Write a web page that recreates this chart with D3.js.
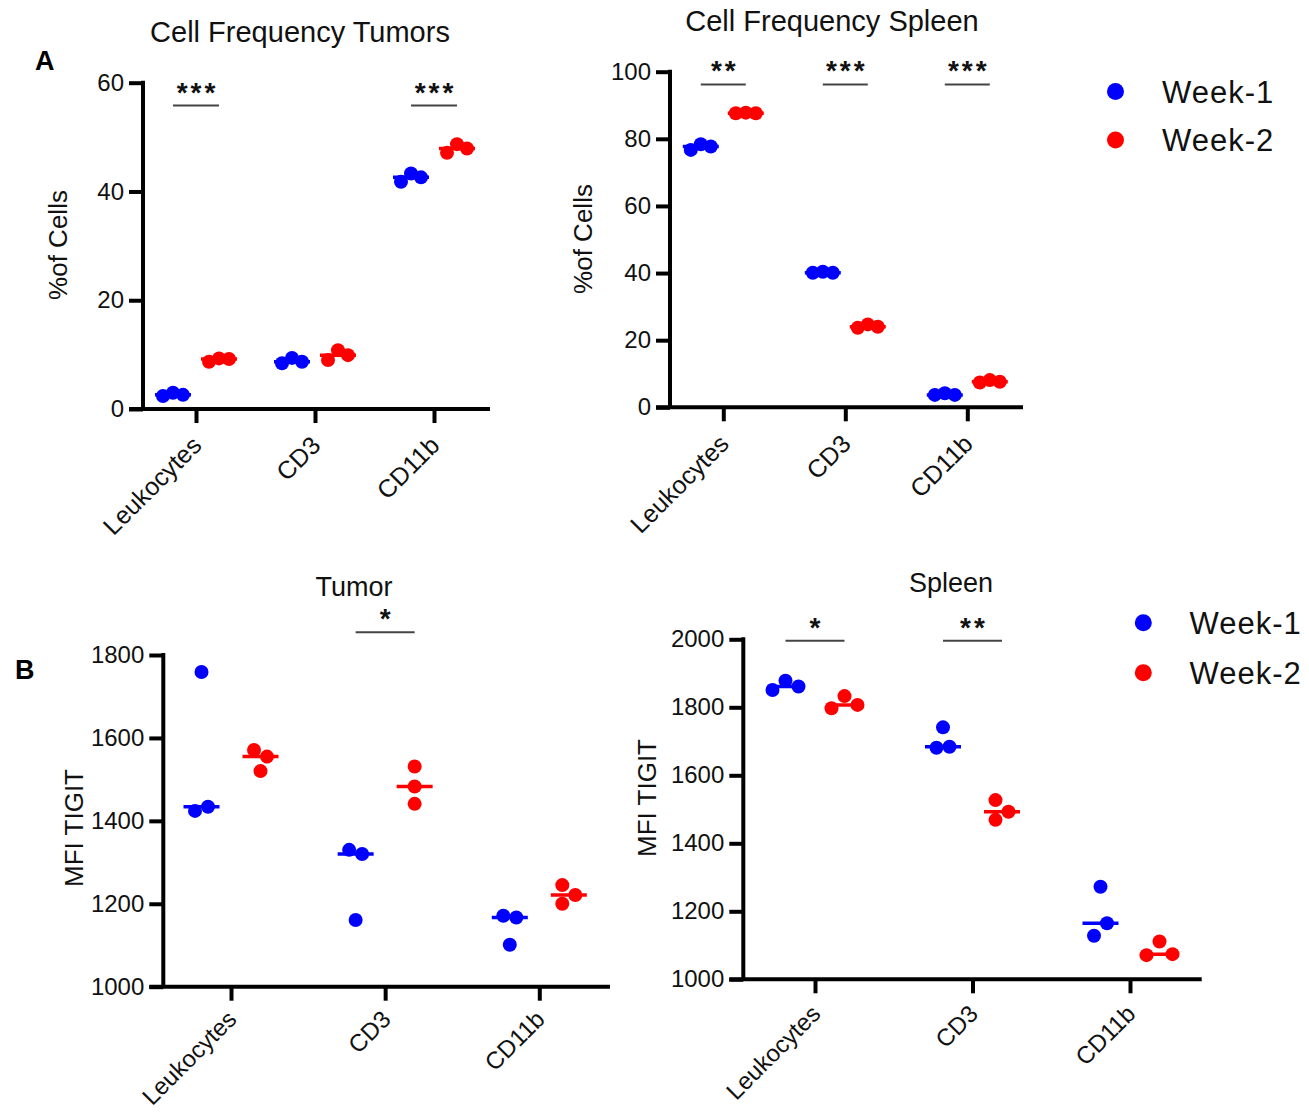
<!DOCTYPE html>
<html>
<head>
<meta charset="utf-8">
<script src="https://cdn.jsdelivr.net/npm/d3@7"></script>
<style>
  html, body { margin: 0; padding: 0; background: #fff; }
  svg { display: block; }
</style>
</head>
<body>
<svg id="chart" width="1309" height="1114"></svg>
<script>
// ---------------- DATA ----------------
const categories = ["Leukocytes", "CD3", "CD11b"];
const seriesNames = ["Week-1", "Week-2"];
const seriesColors = ["#0000ff", "#ff0000"];

// Panel A (left): Cell Frequency Tumors (% of cells)
const tumorFreqWeek1 = [[2.4, 3.0, 2.6], [8.4, 9.4, 8.7], [41.8, 43.3, 42.6]];
const tumorFreqWeek2 = [[8.7, 9.3, 9.2], [9.0, 10.8, 9.9], [47.1, 48.7, 47.9]];
const tumorFreqTicks = [0, 20, 40, 60];
const tumorFreqSig = ["***", "", "***"];
const tumorFreqSigLevel = [55.8, null, 55.8];

// Panel A (right): Cell Frequency Spleen (% of cells)
const spleenFreqWeek1 = [[76.7, 78.4, 77.7], [40.1, 40.4, 40.1], [3.7, 4.2, 3.7]];
const spleenFreqWeek2 = [[87.6, 87.8, 87.6], [23.7, 24.7, 24.0], [7.4, 8.1, 7.6]];
const spleenFreqTicks = [0, 20, 40, 60, 80, 100];
const spleenFreqSig = ["**", "***", "***"];
const spleenFreqSigLevel = [96.2, 96.2, 96.2];

// Panel B (left): Tumor MFI TIGIT
const tumorMfiWeek1 = [[1424, 1759, 1434], [1330, 1161, 1320], [1171, 1101, 1167]];
const tumorMfiWeek2 = [[1571, 1520, 1555], [1531, 1483, 1441], [1245, 1200, 1221]];
const tumorMfiTicks = [1000, 1200, 1400, 1600, 1800];
const tumorMfiSig = ["", "*", ""];
const tumorMfiSigLevel = [null, 1855, null];

// Panel B (right): Spleen MFI TIGIT
const spleenMfiWeek1 = [[1851, 1878, 1861], [1681, 1741, 1684], [1128, 1272, 1165]];
const spleenMfiWeek2 = [[1797, 1833, 1807], [1527, 1469, 1493], [1071, 1111, 1074]];
const spleenMfiTicks = [1000, 1200, 1400, 1600, 1800, 2000];
const spleenMfiSig = ["*", "**", ""];
const spleenMfiSigLevel = [1996, 1996, null];

// ---------------- LAYOUT ----------------
const FONT = "'Liberation Sans', Arial, Helvetica, sans-serif";
const svg = d3.select("#chart");

const panels = [
  { title: "Cell Frequency Tumors", titleSize: 29, titlePos: [300, 42], yTitle: "%of Cells", yTitlePos: [67, 245],
    w1: tumorFreqWeek1, w2: tumorFreqWeek2, ticks: tumorFreqTicks, sig: tumorFreqSig, sigLevel: tumorFreqSigLevel,
    axisX: 143, axisEnd: 490, yTop: 82.7, yBot: 409, catFirst: 196, catLast: 434, off: 23, spread: 10,
    catDy: 38, catSize: 25 },
  { title: "Cell Frequency Spleen", titleSize: 29, titlePos: [832, 31], yTitle: "%of Cells", yTitlePos: [592, 239],
    w1: spleenFreqWeek1, w2: spleenFreqWeek2, ticks: spleenFreqTicks, sig: spleenFreqSig, sigLevel: spleenFreqSigLevel,
    axisX: 670, axisEnd: 1023, yTop: 71.7, yBot: 407.3, catFirst: 723.3, catLast: 967.3, off: 22.5, spread: 10,
    catDy: 38, catSize: 25 },
  { title: "Tumor", titleSize: 27, titlePos: [354, 596], yTitle: "MFI TIGIT", yTitlePos: [83, 828],
    w1: tumorMfiWeek1, w2: tumorMfiWeek2, ticks: tumorMfiTicks, sig: tumorMfiSig, sigLevel: tumorMfiSigLevel,
    axisX: 163.3, axisEnd: 610, yTop: 655, yBot: 986.7, catFirst: 231, catLast: 539.3, off: 29.5, spread: 13,
    catDy: 34, catSize: 24 },
  { title: "Spleen", titleSize: 27, titlePos: [951, 592], yTitle: "MFI TIGIT", yTitlePos: [656, 798],
    w1: spleenMfiWeek1, w2: spleenMfiWeek2, ticks: spleenMfiTicks, sig: spleenMfiSig, sigLevel: spleenMfiSigLevel,
    axisX: 743.3, axisEnd: 1201.7, yTop: 639.3, yBot: 979.3, catFirst: 815, catLast: 1130, off: 29.5, spread: 13,
    catDy: 36, catSize: 24 }
];

const R = 7;              // dot radius
const OVERLAP = 14;       // px distance under which dots collide vertically
const MED_HALF = 18;      // half-width of median bar
const TICK = 14;

// Horizontal arrangement like GraphPad scatter-dot: colliding dots spread into columns
function arrange(pxs, spread) {
  const n = pxs.length;
  const parent = d3.range(n);
  const find = i => parent[i] === i ? i : (parent[i] = find(parent[i]));
  for (let i = 0; i < n; i++) for (let j = i + 1; j < n; j++)
    if (Math.abs(pxs[i] - pxs[j]) < OVERLAP) parent[find(i)] = find(j);
  const groups = d3.group(d3.range(n), i => find(i));
  const offs = new Array(n).fill(0);
  for (const members of groups.values()) {
    const cols = [];
    const colOf = {};
    members.forEach(i => {
      let c = 0;
      while (cols[c] && cols[c].some(j => Math.abs(pxs[i] - pxs[j]) < OVERLAP)) c++;
      (cols[c] = cols[c] || []).push(i);
      colOf[i] = c;
    });
    const nc = cols.length;
    members.forEach(i => { offs[i] = (colOf[i] - (nc - 1) / 2) * spread; });
  }
  return offs;
}

panels.forEach(p => {
  const g = svg.append("g");
  const y = d3.scaleLinear().domain(d3.extent(p.ticks)).range([p.yBot, p.yTop]);
  const x = d3.scalePoint().domain(categories).range([p.catFirst, p.catLast]);
  const xs = d3.scalePoint().domain(seriesNames).range([-p.off, p.off]);

  // Title
  g.append("text").attr("x", p.titlePos[0]).attr("y", p.titlePos[1])
    .attr("text-anchor", "middle").attr("font-family", FONT).attr("font-size", p.titleSize)
    .attr("fill", "#111").text(p.title);

  // Y title
  g.append("text")
    .attr("transform", `translate(${p.yTitlePos[0]},${p.yTitlePos[1]}) rotate(-90)`)
    .attr("text-anchor", "middle").attr("font-family", FONT).attr("font-size", 26)
    .attr("fill", "#111").text(p.yTitle);

  // Y axis
  const yAxis = g.append("g").attr("transform", `translate(${p.axisX},0)`)
    .call(d3.axisLeft(y).tickValues(p.ticks).tickSize(TICK).tickPadding(5).tickFormat(d3.format("d")));
  yAxis.select(".domain").remove();
  yAxis.selectAll(".tick line").attr("stroke", "#000").attr("stroke-width", 4);
  yAxis.selectAll(".tick text").attr("font-family", FONT).attr("font-size", 24).attr("fill", "#111");

  // X axis ticks
  const xAxis = g.append("g").attr("transform", `translate(0,${p.yBot})`)
    .call(d3.axisBottom(x).tickSize(TICK).tickFormat(""));
  xAxis.select(".domain").remove();
  xAxis.selectAll(".tick line").attr("stroke", "#000").attr("stroke-width", 4);

  // Axis lines
  g.append("line").attr("x1", p.axisX).attr("x2", p.axisX).attr("y1", p.yTop - 2).attr("y2", p.yBot)
    .attr("stroke", "#000").attr("stroke-width", 4);
  g.append("line").attr("x1", p.axisX - TICK).attr("x2", p.axisEnd).attr("y1", p.yBot).attr("y2", p.yBot)
    .attr("stroke", "#000").attr("stroke-width", 4);

  // Category labels
  categories.forEach(c => {
    g.append("text")
      .attr("transform", `translate(${x(c) + 7},${p.yBot + p.catDy}) rotate(-45)`)
      .attr("text-anchor", "end").attr("font-family", FONT).attr("font-size", p.catSize)
      .attr("fill", "#111").text(c);
  });

  // Data: medians and dots
  [p.w1, p.w2].forEach((series, si) => {
    series.forEach((vals, ci) => {
      const cx = x(categories[ci]) + xs(seriesNames[si]);
      const pxs = vals.map(v => y(v));
      const offs = arrange(pxs, p.spread);
      const med = d3.median(vals);
      g.append("line").attr("x1", cx - MED_HALF).attr("x2", cx + MED_HALF)
        .attr("y1", y(med)).attr("y2", y(med))
        .attr("stroke", seriesColors[si]).attr("stroke-width", 3.5);
      g.selectAll(null).data(vals).enter().append("circle")
        .attr("cx", (d, i) => cx + offs[i]).attr("cy", d => y(d)).attr("r", R)
        .attr("fill", seriesColors[si]);
    });
  });

  // Significance annotations
  p.sig.forEach((s, ci) => {
    if (!s) return;
    const ly = y(p.sigLevel[ci]);
    const xa = x(categories[ci]) + xs(seriesNames[0]);
    const xb = x(categories[ci]) + xs(seriesNames[1]);
    g.append("line").attr("x1", xa).attr("x2", xb).attr("y1", ly).attr("y2", ly)
      .attr("stroke", "#444").attr("stroke-width", 2);
    g.append("text").attr("x", (xa + xb) / 2 + 1.5).attr("y", ly - 4)
      .attr("text-anchor", "middle").attr("font-family", FONT).attr("font-size", 28)
      .attr("font-weight", "bold").attr("letter-spacing", 3).attr("fill", "#111").text(s);
  });
});

// Legends
const legends = [ { x: 1115.5, y: 91.5, textX: 1162, gap: 48.5 }, { x: 1143.3, y: 622.7, textX: 1189.5, gap: 50 } ];
legends.forEach(L => {
  seriesNames.forEach((s, i) => {
    svg.append("circle").attr("cx", L.x).attr("cy", L.y + i * L.gap).attr("r", 8.5).attr("fill", seriesColors[i]);
    svg.append("text").attr("x", L.textX).attr("y", L.y + i * L.gap + 11)
      .attr("font-family", FONT).attr("font-size", 31).attr("letter-spacing", 1).attr("fill", "#111").text(s);
  });
});

// Panel letters
svg.append("text").attr("x", 35).attr("y", 70).attr("font-family", FONT).attr("font-size", 27)
  .attr("font-weight", "bold").attr("fill", "#000").text("A");
svg.append("text").attr("x", 15).attr("y", 679).attr("font-family", FONT).attr("font-size", 27)
  .attr("font-weight", "bold").attr("fill", "#000").text("B");
</script>
</body>
</html>
